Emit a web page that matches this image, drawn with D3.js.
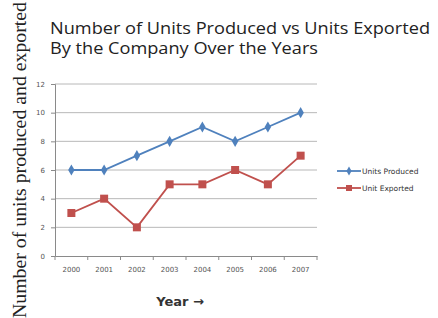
<!DOCTYPE html>
<html>
<head>
<meta charset="utf-8">
<script src="https://cdn.jsdelivr.net/npm/d3@7"></script>
<style>
  body { margin: 0; background: #fff; }
  svg { display: block; }
</style>
</head>
<body>
<div id="chart"></div>
<script>
const years = ['2000', '2001', '2002', '2003', '2004', '2005', '2006', '2007'];
const unitsProduced = [6, 6, 7, 8, 9, 8, 9, 10];
const unitsExported = [3, 4, 2, 5, 5, 6, 5, 7];
const yTicks = [0, 2, 4, 6, 8, 10, 12];

const W = 438, H = 318;
const margin = {top: 84, left: 55, right: 121, bottom: 62};
const chtW = W - margin.left - margin.right;
const chtH = H - margin.top - margin.bottom;

const svg = d3.select('#chart').append('svg')
  .attr('width', W)
  .attr('height', H);

// title (source image is stretched sideways, so stretch glyphs too)
const title = svg.append('text')
  .attr('font-family', 'Open Sans, sans-serif')
  .attr('font-size', 15.5)
  .attr('fill', '#222');
title.append('tspan').attr('x', 50).attr('y', 34)
  .attr('textLength', 380).attr('lengthAdjust', 'spacingAndGlyphs')
  .text('Number of Units Produced vs Units Exported');
title.append('tspan').attr('x', 50).attr('y', 54)
  .attr('textLength', 268).attr('lengthAdjust', 'spacingAndGlyphs')
  .text('By the Company Over the Years');

// y axis title
svg.append('text')
  .attr('transform', 'translate(26,' + 160 + ') rotate(-90)')
  .attr('text-anchor', 'middle')
  .attr('font-family', 'Liberation Serif, DejaVu Serif, serif')
  .attr('font-size', 19.8)
  .attr('fill', '#222')
  .text('Number of units produced and exported');

const g = svg.append('g')
  .attr('transform', 'translate(' + margin.left + ',' + margin.top + ')');

const x = d3.scaleBand().domain(years).range([0, chtW]);
const y = d3.scaleLinear().domain([0, 12]).range([chtH, 0]);

// gridlines
g.append('g')
  .selectAll('line')
  .data(yTicks.filter(d => d > 0))
  .enter().append('line')
  .attr('x1', 0).attr('x2', chtW)
  .attr('y1', d => y(d)).attr('y2', d => y(d))
  .attr('stroke', '#b8b8b8')
  .attr('stroke-width', 1);

// y axis
const yAxis = g.append('g')
  .attr('class', 'y axis')
  .call(d3.axisLeft(y).tickValues(yTicks).tickSize(4).tickPadding(6));

// x axis
const xAxis = g.append('g')
  .attr('class', 'x axis')
  .attr('transform', 'translate(0,' + chtH + ')')
  .call(d3.axisBottom(x).tickSize(0).tickPadding(11));

// category tick marks at band edges
xAxis.selectAll('.edge')
  .data(years.map(d => x(d)).concat([chtW]))
  .enter().append('line')
  .attr('class', 'edge')
  .attr('x1', d => d).attr('x2', d => d)
  .attr('y1', 0).attr('y2', 4)
  .attr('stroke', '#8a8a8a');

d3.selectAll('g.axis path.domain')
  .attr('stroke', '#8a8a8a');
d3.selectAll('g.y.axis g.tick line')
  .attr('stroke', '#8a8a8a');
d3.selectAll('g.axis g.tick text')
  .attr('fill', '#555')
  .attr('font-family', 'DejaVu Sans, sans-serif')
  .style('font-size', '7px');

const cx = d => x(d) + x.bandwidth() / 2;

const line = d3.line()
  .x(d => cx(d.year))
  .y(d => y(d.v));

const prodData = years.map((yr, i) => ({year: yr, v: unitsProduced[i]}));
const expData = years.map((yr, i) => ({year: yr, v: unitsExported[i]}));

const blue = '#4f81bd';
const red = '#c0504d';

g.append('path')
  .datum(prodData)
  .attr('fill', 'none')
  .attr('stroke', blue)
  .attr('stroke-width', 1.8)
  .attr('d', line);

g.append('path')
  .datum(expData)
  .attr('fill', 'none')
  .attr('stroke', red)
  .attr('stroke-width', 1.8)
  .attr('d', line);

const diamond = d3.symbol().type(d3.symbolDiamond).size(36);

g.selectAll('.dot-prod')
  .data(prodData)
  .enter().append('path')
  .attr('class', 'dot-prod')
  .attr('d', diamond)
  .attr('fill', blue)
  .attr('transform', d => 'translate(' + cx(d.year) + ',' + y(d.v) + ')');

g.selectAll('.dot-exp')
  .data(expData)
  .enter().append('rect')
  .attr('class', 'dot-exp')
  .attr('x', d => cx(d.year) - 4)
  .attr('y', d => y(d.v) - 4)
  .attr('width', 8)
  .attr('height', 8)
  .attr('fill', red);

// legend
const legend = svg.append('g')
  .attr('transform', 'translate(337,171)');
const legendItems = [
  {name: 'Units Produced', color: blue, mark: 'diamond'},
  {name: 'Unit Exported', color: red, mark: 'square'}
];
legendItems.forEach((item, i) => {
  const row = legend.append('g').attr('transform', 'translate(0,' + (i * 17) + ')');
  row.append('line')
    .attr('x1', 0).attr('x2', 24)
    .attr('y1', 0).attr('y2', 0)
    .attr('stroke', item.color)
    .attr('stroke-width', 1.8);
  if (item.mark === 'diamond') {
    row.append('path')
      .attr('d', d3.symbol().type(d3.symbolDiamond).size(24))
      .attr('fill', item.color)
      .attr('transform', 'translate(12,0)');
  } else {
    row.append('rect')
      .attr('x', 9).attr('y', -3).attr('width', 6).attr('height', 6)
      .attr('fill', item.color);
  }
  row.append('text')
    .attr('x', 25)
    .attr('y', 3)
    .attr('font-family', 'DejaVu Sans, sans-serif')
    .attr('font-size', 7.5)
    .attr('fill', '#333')
    .text(item.name);
});

// x axis title
svg.append('text')
  .attr('x', 180)
  .attr('y', 306)
  .attr('text-anchor', 'middle')
  .attr('font-family', 'DejaVu Sans, sans-serif')
  .attr('font-weight', 'bold')
  .attr('font-size', 13)
  .attr('fill', '#333')
  .text('Year \u2192');
</script>
</body>
</html>
